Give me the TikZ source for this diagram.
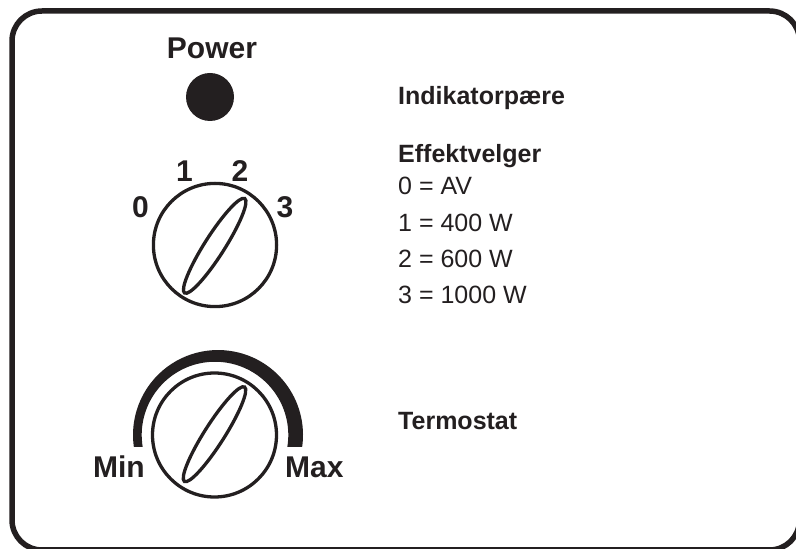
\documentclass[tikz,border=0pt]{standalone}
\usepackage{fontspec}
\setmainfont{Liberation Sans}
\definecolor{ink}{RGB}{35,31,32}
\begin{document}
\begin{tikzpicture}[x=1pt,y=1pt,
  lbl/.style={inner sep=0pt,anchor=base,text=ink,font=\fontsize{30}{36}\selectfont\bfseries},
  big/.style={inner sep=0pt,text=ink,font=\fontsize{30}{36}\selectfont\bfseries},
  head/.style={inner sep=0pt,anchor=base west,text=ink,font=\fontsize{25}{30}\selectfont\bfseries},
  item/.style={inner sep=0pt,anchor=base west,text=ink,font=\fontsize{25}{30}\selectfont},
  knob/.style={draw=ink,line width=3.3pt},
  frame/.style={draw=ink,line width=5.5pt,rounded corners=30pt}]
\useasboundingbox (0,0) rectangle (796,549);
% frame
\draw[frame] (12,538) rectangle (799.5,-1);
% power
\node[lbl] (power) at (212,490) {Power};
\fill[ink] (210,452) circle[radius=24];
% power selector dial
\draw[knob] (215,304) circle[radius=61.6];
\draw[knob,rotate around={57.5:(214.7,303.2)}] (214.7,303.2) ellipse (56 and 10);
\node[lbl] (d0) at (140.5,331) {0};
\node[lbl] (d1) at (184.5,367) {1};
\node[lbl] (d2) at (240,367) {2};
\node[lbl] (d3) at (285,331) {3};
% thermostat dial
\fill[ink] (302.15,102) arc[start angle=-8.1,end angle=188.1,radius=85]
  -- (142.7,102) arc[start angle=189.4,end angle=-9.4,radius=73.3] -- cycle;
\draw[knob] (214.5,114) circle[radius=62];
\draw[knob,rotate around={57.5:(214.5,114.8)}] (214.5,114.8) ellipse (56 and 10);
\node[big,anchor=base east] (min) at (145,71) {Min};
\node[big,anchor=base west] (max) at (285,71) {Max};
% legend
\node[head] (ind) at (398,444) {Indikatorpære};
\node[head] (eff) at (398,386) {Effektvelger};
\node[item] (e0) at (398,354) {0 = AV};
\node[item] (e1) at (398,317) {1 = 400 W};
\node[item] (e2) at (398,281) {2 = 600 W};
\node[item] (e3) at (398,245) {3 = 1000 W};
\node[head] (term) at (398,119) {Termostat};
\end{tikzpicture}
\end{document}
